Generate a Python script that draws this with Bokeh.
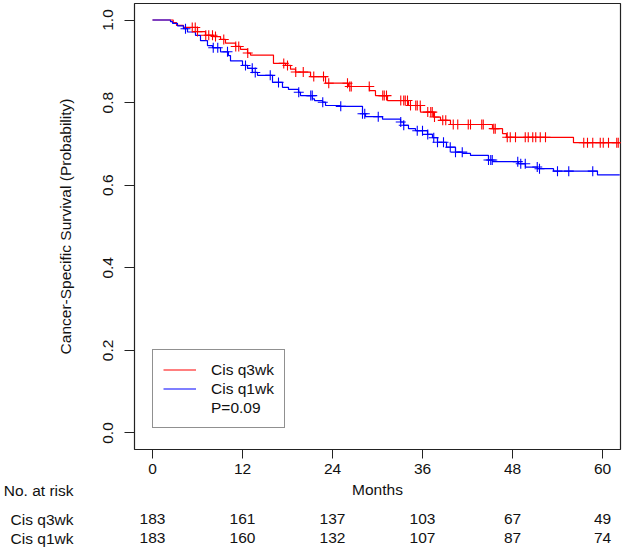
import numpy as np
from bokeh.plotting import figure
from bokeh.models import Range1d, FixedTicker, Legend, LegendItem, PrintfTickFormatter
from bokeh.layouts import column
from bokeh.embed import file_html
from bokeh.resources import INLINE
from bokeh.core.properties import value

# ---------------- data ----------------
group_names = ["Cis q3wk", "Cis q1wk"]
risk_header = "No. at risk"
x_label = "Months"
p_text = "P=0.09"

q3_times = [2.76, 3.2, 4.13, 6.0, 7.07, 8.13, 9.07, 9.73, 11.07, 11.73, 12.67, 13.07,
            16.13, 17.73, 18.4, 19.07, 21.07, 23.07, 26.13, 28.93, 29.73, 31.33, 34.13,
            35.73, 37.47, 38.4, 39.73, 45.33, 46.67, 47.2, 56.13]
q3_surv = [0.994, 0.987, 0.982, 0.972, 0.963, 0.960, 0.953, 0.944, 0.936, 0.929, 0.920, 0.915,
           0.895, 0.890, 0.881, 0.874, 0.863, 0.847, 0.839, 0.829, 0.817, 0.805, 0.793,
           0.777, 0.765, 0.757, 0.747, 0.737, 0.725, 0.716, 0.703]
q3_cens = [5.3, 5.7, 6.0, 7.1, 7.5, 8.0, 8.4, 9.5, 11.1, 11.5, 12.7, 17.5, 18.0, 19.1, 20.1,
           21.5, 22.8, 23.5, 26.0, 26.3, 26.5, 28.9, 30.7, 30.9, 31.2, 33.1, 33.5, 33.7, 34.0,
           34.4, 35.1, 35.3, 35.7, 36.7, 37.1, 37.3, 37.6, 38.7, 39.1, 40.1, 40.7, 42.1, 42.4,
           43.9, 44.1, 45.5, 45.7, 47.3, 47.7, 48.4, 49.7, 50.1, 50.7, 51.1, 51.7, 52.4, 57.5,
           58.0, 58.7, 59.7, 60.1, 60.8, 61.9, 62.1]
q3_end = 62.3

q1_times = [2.4, 2.67, 3.33, 4.13, 4.67, 5.73, 6.4, 7.33, 8.0, 9.07, 10.13, 10.4, 12.0, 12.67,
            13.33, 14.0, 16.0, 17.33, 18.13, 19.47, 19.73, 21.33, 21.6, 22.67, 23.07, 25.07,
            28.0, 28.4, 30.67, 33.07, 33.47, 34.13, 35.07, 36.67, 37.33, 38.0, 39.2, 40.4,
            41.33, 42.4, 44.8, 45.33, 48.8, 49.73, 51.33, 53.47, 59.33]
q1_surv = [0.996, 0.992, 0.986, 0.979, 0.971, 0.963, 0.950, 0.938, 0.933, 0.923, 0.914, 0.901,
           0.890, 0.883, 0.873, 0.866, 0.849, 0.837, 0.832, 0.825, 0.817, 0.809, 0.805, 0.801,
           0.793, 0.791, 0.773, 0.766, 0.760, 0.753, 0.745, 0.737, 0.732, 0.723, 0.715, 0.704,
           0.692, 0.680, 0.677, 0.672, 0.661, 0.657, 0.652, 0.644, 0.640, 0.634, 0.625]
q1_cens = [4.4, 8.1, 8.7, 10.0, 12.4, 13.3, 13.7, 15.7, 16.8, 19.5, 21.1, 21.3, 22.7, 25.1,
           28.0, 28.3, 30.1, 33.1, 33.5, 35.3, 36.0, 36.7, 37.5, 38.0, 38.8, 39.7, 40.4, 41.3,
           44.8, 45.1, 45.3, 48.7, 49.1, 49.7, 51.3, 51.6, 54.0, 55.5, 58.7]
q1_end = 62.3

x_ticks = [0, 12, 24, 36, 48, 60]
y_ticks = [0.0, 0.2, 0.4, 0.6, 0.8, 1.0]
risk_times = [0, 12, 24, 36, 48, 60]
q3_risk = [183, 161, 137, 103, 67, 49]
q1_risk = [183, 160, 132, 107, 87, 74]

# ---------------- helpers ----------------
FONT = "Liberation Sans"
FS = "15.5px"
TXT = "#111111"
RED = "#FF0000"
BLUE = "#0000FF"
X_RANGE = (-2.4, 62.4)


def km_path(times, surv, end):
    xs = [0.0] + list(times) + [end]
    ys = [1.0] + list(surv) + [surv[-1]]
    return xs, ys


def surv_at(times, surv, ts):
    t = np.asarray(times)
    s = np.asarray(surv)
    idx = np.searchsorted(t, np.asarray(ts), side="right") - 1
    return np.where(idx < 0, 1.0, s[np.clip(idx, 0, None)])


MAIN_H = 481
# ---------------- main plot ----------------
p = figure(width=624, height=MAIN_H, output_backend="svg", toolbar_location=None,
           x_range=Range1d(*X_RANGE), y_range=Range1d(-0.04, 1.04),
           min_border_left=134, min_border_right=4, min_border_top=3,
           min_border_bottom=MAIN_H - 449)
p.background_fill_color = "white"
p.border_fill_color = "white"
p.xgrid.visible = False
p.ygrid.visible = False
p.outline_line_color = "#222222"
p.outline_line_width = 1.2

p.xaxis.ticker = FixedTicker(ticks=x_ticks)
p.yaxis.ticker = FixedTicker(ticks=y_ticks)
p.yaxis.formatter = PrintfTickFormatter(format="%.1f")
for ax in (p.xaxis[0], p.yaxis[0]):
    ax.axis_line_color = None
    ax.minor_tick_line_color = None
    ax.major_tick_in = 0
    ax.major_tick_line_color = "#222222"
    ax.major_label_text_font = FONT
    ax.major_label_text_font_size = FS
    ax.major_label_text_color = TXT
p.xaxis.major_tick_out = 9
p.xaxis.major_label_standoff = 5
p.yaxis.major_tick_out = 10
p.yaxis.major_label_standoff = 11
p.yaxis.major_label_orientation = "parallel"
p.yaxis.axis_label = "Cancer-Specific Survival (Probability)"
p.yaxis.axis_label_text_font = FONT
p.yaxis.axis_label_text_font_size = FS
p.yaxis.axis_label_text_font_style = "normal"
p.yaxis.axis_label_text_color = TXT
p.yaxis.axis_label_standoff = 27

rx, ry = km_path(q3_times, q3_surv, q3_end)
bx, by = km_path(q1_times, q1_surv, q1_end)
r_red = p.step(rx, ry, mode="after", line_color=RED, line_width=1.2)
r_blue = p.step(bx, by, mode="after", line_color=BLUE, line_width=1.2)
p.scatter(q3_cens, surv_at(q3_times, q3_surv, q3_cens), marker="cross", size=10,
          line_color=RED, line_width=1.1)
p.scatter(q1_cens, surv_at(q1_times, q1_surv, q1_cens), marker="cross", size=10,
          line_color=BLUE, line_width=1.1)
r_none = p.line([0, 0], [1, 1], line_alpha=0)

legend = Legend(items=[LegendItem(label=group_names[0], renderers=[r_red]),
                       LegendItem(label=group_names[1], renderers=[r_blue]),
                       LegendItem(label=p_text, renderers=[r_none])],
                location=(18, 21))
legend.margin = 0
legend.padding = 10
legend.spacing = 0
legend.label_height = 19
legend.glyph_height = 19
legend.glyph_width = 33
legend.label_standoff = 15
legend.label_text_font = FONT
legend.label_text_font_size = FS
legend.label_text_color = TXT
legend.border_line_color = "#222222"
legend.border_line_width = 1
legend.background_fill_alpha = 1.0
p.add_layout(legend, "center")

# ---------------- risk table ----------------
RISK_H = 549 - MAIN_H
head_y = 488.5 - MAIN_H
row_y = [518.7 - MAIN_H, 537.5 - MAIN_H]
q = figure(width=624, height=RISK_H, output_backend="svg", toolbar_location=None,
           x_range=Range1d(*X_RANGE), y_range=Range1d(RISK_H, 0),
           min_border_left=134, min_border_right=4, min_border_top=0, min_border_bottom=0,
           x_axis_location=None, y_axis_location="left")
q.xgrid.visible = False
q.ygrid.visible = False
q.outline_line_color = None
q.background_fill_color = "white"
q.border_fill_color = "white"

# row titles drawn as left-axis labels (right-aligned outside the frame)
row_ticks = [head_y] + row_y
q.yaxis.ticker = FixedTicker(ticks=row_ticks)
q.yaxis.major_label_overrides = {t: lab for t, lab in zip(row_ticks, [risk_header] + group_names)}
q.yaxis.axis_line_color = None
q.yaxis.major_tick_line_color = None
q.yaxis.minor_tick_line_color = None
q.yaxis.major_tick_in = 0
q.yaxis.major_tick_out = 0
q.yaxis.major_label_standoff = 61
q.yaxis.major_label_text_font = FONT
q.yaxis.major_label_text_font_size = FS
q.yaxis.major_label_text_color = TXT

tkw = dict(text_font=value(FONT), text_font_size=FS, text_color=TXT, text_baseline="middle",
           text_align="center")
q.text(x=[(x_ticks[0] + x_ticks[-1]) / 2], y=[head_y], text=[x_label], **tkw)
q.text(x=risk_times, y=[row_y[0]] * len(risk_times), text=[str(v) for v in q3_risk], **tkw)
q.text(x=risk_times, y=[row_y[1]] * len(risk_times), text=[str(v) for v in q1_risk], **tkw)

layout = column(p, q, spacing=0)
open("out.html", "w").write(file_html(layout, INLINE))
